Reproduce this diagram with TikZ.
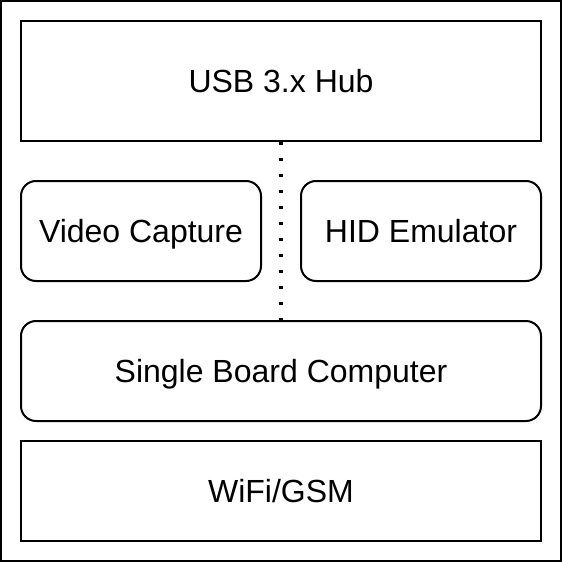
\documentclass[tikz,border=0pt]{standalone}
\usepackage{fontspec}
\setmainfont{Liberation Sans}
\begin{document}
\begin{tikzpicture}[x=1pt,y=-1pt,
  box/.style={draw=black,line width=2pt,fill=white,inner sep=0pt,
    font=\fontsize{32}{38}\selectfont,text height=29pt,text depth=6.8pt},
  rbox/.style={box,rounded corners=15pt},
  link/.style={line width=3.2pt,dash pattern=on 3.2pt off 12.8pt}]
\useasboundingbox (0,0) rectangle (562,562);
\draw[line width=2pt] (1,1) rectangle (561,561);
\node[box,minimum width=520pt,minimum height=120pt] (usb) at (281,81) {USB 3.x Hub};
\node[rbox,minimum width=240pt,minimum height=100pt] (vid) at (141,231) {Video Capture};
\node[rbox,minimum width=240pt,minimum height=100pt] (hid) at (421,231) {HID Emulator};
\node[rbox,minimum width=520pt,minimum height=100pt] (sbc) at (281,371) {Single Board Computer};
\node[box,minimum width=520pt,minimum height=100pt] (wifi) at (281,491) {WiFi/GSM};
\draw[link] (usb.south) -- (sbc.north);
\end{tikzpicture}
\end{document}
